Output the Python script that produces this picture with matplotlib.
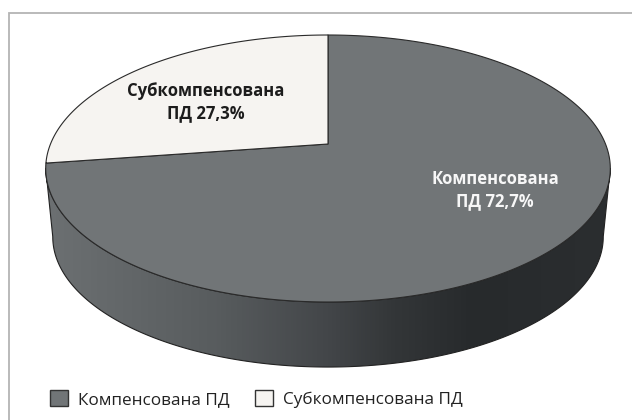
import numpy as np
import matplotlib
matplotlib.use("Agg")
import matplotlib.pyplot as plt
from matplotlib.colors import LinearSegmentedColormap
from matplotlib.patches import Polygon, Patch

categories = ["Компенсована ПД", "Субкомпенсована ПД"]
values = [72.7, 27.3]
slice_labels = ["Компенсована\nПД 72,7%", "Субкомпенсована\nПД 27,3%"]
slice_colors = ["#717577", "#f6f4f1"]
label_colors = ["#f7f7f7", "#1c1c1c"]
label_positions = [(495, 190), (206, 102)]

CX, CY, A, B, K = 328.0, 144.0, 277.5, 129.0, 0.1835
DEPTH, SHRINK = 69.0, 0.975


def project(theta, scale=1.0, dy=0.0):
    """Clockwise angle from 12 o'clock on the disc -> image position (perspective)."""
    u, v = np.sin(theta), np.cos(theta)
    w = 1 + K * v
    return CX + scale * A * u / w, CY + dy - scale * B * v / w


fig = plt.figure(figsize=(6.32, 4.20), dpi=100, facecolor="white")
ax = fig.add_axes([0, 0, 1, 1])
ax.set_xlim(0, 632)
ax.set_ylim(420, 0)
ax.axis("off")

# Frame (top and left only are visible)
ax.plot([8.5, 8.5, 632], [420, 12.5, 12.5], color="#b4b4b4", lw=1.3, zorder=1,
        solid_joinstyle="miter")

# Side wall
t = np.linspace(0, 2 * np.pi, 1441)
xt, yt = project(t)
xb, yb = project(t, SHRINK, DEPTH)


def lower_arc(x, y):
    il, ir = int(np.argmin(x)), int(np.argmax(x))
    idx = np.arange(ir, il + 1)
    return x[idx], y[idx]


xa, ya = lower_arc(xt, yt)
xc, yc = lower_arc(xb, yb)
side_xy = np.column_stack([np.r_[xa, xc[::-1]], np.r_[ya, yc[::-1]]])
side = Polygon(side_xy, closed=True, fc="none", ec="#222222", lw=0.8, zorder=3)
ax.add_patch(side)
cmap = LinearSegmentedColormap.from_list(
    "side", [(0, "#6c7072"), (0.3, "#585c5e"), (0.5, "#434649"),
             (0.62, "#333638"), (0.76, "#272a2c"), (1, "#2b2e30")])
im = ax.imshow(np.linspace(0, 1, 400)[None, :], cmap=cmap, aspect="auto",
               extent=(46, 610, 420, 0), zorder=2)
clip = Polygon(side_xy, closed=True, transform=ax.transData)
im.set_clip_path(clip)
ax.set_xlim(0, 632)
ax.set_ylim(420, 0)

# Top face, slices run counter-clockwise from 12 o'clock for the small one
frac = values[1] / sum(values)
end = 2 * np.pi * (1 - frac)
arcs = [np.linspace(0, end, 720), np.linspace(end, 2 * np.pi, 300)]
for arc, col in zip(arcs, slice_colors):
    x, y = project(arc)
    xy = np.column_stack([np.r_[CX, x], np.r_[CY, y]])
    ax.add_patch(Polygon(xy, closed=True, fc=col, ec="#2a2a2a", lw=0.8, zorder=4,
                         joinstyle="round"))

# Slice labels
for txt, col, (lx, ly) in zip(slice_labels, label_colors, label_positions):
    ax.text(lx, ly, txt, color=col, ha="center", va="center", fontsize=12,
            fontweight="bold", family="Open Sans", linespacing=1.25, zorder=5)

# Legend
handles = [Patch(fc=slice_colors[0], ec="#333333", lw=1.0),
           Patch(fc=slice_colors[1], ec="#333333", lw=1.0)]
fig.legend(handles, categories, loc="center left", bbox_to_anchor=(50 / 632, 1 - 399 / 420),
           ncol=2, frameon=False, handlelength=1.05, handleheight=1.05, handletextpad=0.58,
           columnspacing=1.5, borderpad=0, borderaxespad=0,
           prop={"family": "Open Sans", "size": 12.3}, labelcolor="#222222")

fig.savefig("out.png", dpi=100, facecolor="white")
